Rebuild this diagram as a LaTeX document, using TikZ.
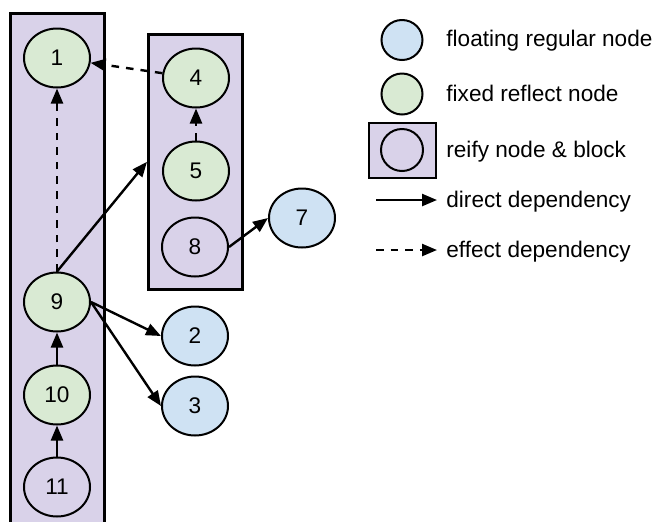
\documentclass[tikz,border=0pt]{standalone}
\usepackage{fontspec}
\setmainfont{Liberation Sans}
\usetikzlibrary{arrows.meta,shapes.geometric}

\definecolor{floatblue}{HTML}{CFE2F3}
\definecolor{fixgreen}{HTML}{D9EAD3}
\definecolor{reifypurple}{HTML}{D9D2E9}

\begin{document}
\begin{tikzpicture}[
  x=0.5pt, y=-0.5pt,
  every node/.style={font=\fontsize{11.3}{13.5}\selectfont},
  vertex/.style={draw,ellipse,line width=1pt,minimum width=33pt,minimum height=29.5pt,inner sep=0pt},
  floatnode/.style={vertex,fill=floatblue},
  fixnode/.style={vertex,fill=fixgreen},
  reifynode/.style={vertex},
  block/.style={draw,line width=1.3pt,fill=reifypurple,inner sep=0pt},
  keytext/.style={anchor=base west,inner sep=0pt},
  dep/.style={line width=1.2pt,-{Triangle[length=7.5pt,width=6pt]}},
  effect/.style={dep,dash pattern=on 3.8pt off 3.5pt}
]
  \clip (0,0) rectangle (654,521);

  % reify blocks
  \node[block,minimum width=47pt,minimum height=270pt,anchor=north west] (reifyL) at (9,12) {};
  \node[block,minimum width=47pt,minimum height=127.5pt,anchor=north west] (reifyR) at (147,33) {};

  % nodes
  \node[fixnode] (n1) at (57,58) {1};
  \node[fixnode] (n9) at (57,302) {9};
  \node[fixnode] (n10) at (57,395) {10};
  \node[reifynode] (n11) at (57,487) {11};
  \node[fixnode] (n4) at (196,78) {4};
  \node[fixnode] (n5) at (196,171) {5};
  \node[reifynode] (n8) at (195,247) {8};
  \node[floatnode] (n7) at (302,218) {7};
  \node[floatnode] (n2) at (195,336) {2};
  \node[floatnode] (n3) at (195,406) {3};

  % dependencies
  \draw[effect] (n4) -- (n1);
  \draw[effect] (n5) -- (n4);
  \draw[effect] (n9) -- (n1);
  \draw[dep] (n9.north) -- (reifyR.west);
  \draw[dep] (n9.east) -- (n2.west);
  \draw[dep] (n9.east) -- (n3.west);
  \draw[dep] (n10) -- (n9);
  \draw[dep] (n11) -- (n10);
  \draw[dep] (n8.east) -- (n7.west);

  % legend
  \node[floatnode,minimum width=20.5pt,minimum height=20pt] (keyfloat) at (402,40) {};
  \node[fixnode,minimum width=20.5pt,minimum height=20.5pt] (keyfix) at (402,94) {};
  \node[block,minimum width=33.5pt,minimum height=27.5pt] (keyblock) at (402.5,150.5) {};
  \node[reifynode,minimum width=21pt,minimum height=21pt] (keyreify) at (402,150) {};
  \coordinate (keydepA) at (376,200);
  \coordinate (keydepB) at (437,200);
  \coordinate (keyeffA) at (376,250);
  \coordinate (keyeffB) at (437,250);
  \draw[dep] (keydepA) -- (keydepB);
  \draw[effect] (keyeffA) -- (keyeffB);

  \node[keytext] (txtfloat) at (446,46.7) {floating regular node};
  \node[keytext] (txtfix) at (446,101) {fixed reflect node};
  \node[keytext] (txtreify) at (446,157) {reify node \& block};
  \node[keytext] (txtdep) at (446,207) {direct dependency};
  \node[keytext] (txteff) at (446,257) {effect dependency};
\end{tikzpicture}
\end{document}
